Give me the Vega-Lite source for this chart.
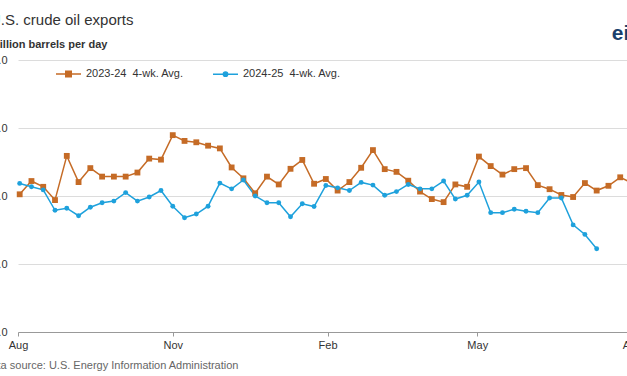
{
  "$schema": "https://vega.github.io/schema/vega-lite/v6.json",
  "width": 614,
  "height": 272,
  "autosize": {"type": "none"},
  "padding": {"left": 18, "top": 60, "right": -5, "bottom": 44},
  "background": "white",
  "title": {
    "text": "U.S. crude oil exports",
    "subtitle": "million barrels per day",
    "anchor": "start",
    "frame": "group",
    "dx": -28,
    "dy": 35,
    "offset": 8,
    "font": "Liberation Sans",
    "fontSize": 15,
    "fontWeight": "normal",
    "color": "#333333",
    "subtitleFont": "Liberation Sans",
    "subtitleFontSize": 11,
    "subtitleFontWeight": "bold",
    "subtitleColor": "#333333",
    "subtitlePadding": 11
  },
  "config": {
    "view": {"stroke": null},
    "font": "Liberation Sans"
  },
  "datasets": {
    "exports": [
      {"date": "2024-08-02", "series": "2023-24\u00a0 4-wk. Avg.", "value": 4.05},
      {"date": "2024-08-09", "series": "2023-24\u00a0 4-wk. Avg.", "value": 4.44},
      {"date": "2024-08-16", "series": "2023-24\u00a0 4-wk. Avg.", "value": 4.27},
      {"date": "2024-08-23", "series": "2023-24\u00a0 4-wk. Avg.", "value": 3.88},
      {"date": "2024-08-30", "series": "2023-24\u00a0 4-wk. Avg.", "value": 5.18},
      {"date": "2024-09-06", "series": "2023-24\u00a0 4-wk. Avg.", "value": 4.41},
      {"date": "2024-09-13", "series": "2023-24\u00a0 4-wk. Avg.", "value": 4.82},
      {"date": "2024-09-20", "series": "2023-24\u00a0 4-wk. Avg.", "value": 4.57},
      {"date": "2024-09-27", "series": "2023-24\u00a0 4-wk. Avg.", "value": 4.57},
      {"date": "2024-10-04", "series": "2023-24\u00a0 4-wk. Avg.", "value": 4.57},
      {"date": "2024-10-11", "series": "2023-24\u00a0 4-wk. Avg.", "value": 4.69},
      {"date": "2024-10-18", "series": "2023-24\u00a0 4-wk. Avg.", "value": 5.10},
      {"date": "2024-10-25", "series": "2023-24\u00a0 4-wk. Avg.", "value": 5.07},
      {"date": "2024-11-01", "series": "2023-24\u00a0 4-wk. Avg.", "value": 5.79},
      {"date": "2024-11-08", "series": "2023-24\u00a0 4-wk. Avg.", "value": 5.62},
      {"date": "2024-11-15", "series": "2023-24\u00a0 4-wk. Avg.", "value": 5.58},
      {"date": "2024-11-22", "series": "2023-24\u00a0 4-wk. Avg.", "value": 5.48},
      {"date": "2024-11-29", "series": "2023-24\u00a0 4-wk. Avg.", "value": 5.40},
      {"date": "2024-12-06", "series": "2023-24\u00a0 4-wk. Avg.", "value": 4.84},
      {"date": "2024-12-13", "series": "2023-24\u00a0 4-wk. Avg.", "value": 4.52},
      {"date": "2024-12-20", "series": "2023-24\u00a0 4-wk. Avg.", "value": 4.08},
      {"date": "2024-12-27", "series": "2023-24\u00a0 4-wk. Avg.", "value": 4.57},
      {"date": "2025-01-03", "series": "2023-24\u00a0 4-wk. Avg.", "value": 4.34},
      {"date": "2025-01-10", "series": "2023-24\u00a0 4-wk. Avg.", "value": 4.80},
      {"date": "2025-01-17", "series": "2023-24\u00a0 4-wk. Avg.", "value": 5.06},
      {"date": "2025-01-24", "series": "2023-24\u00a0 4-wk. Avg.", "value": 4.36},
      {"date": "2025-01-31", "series": "2023-24\u00a0 4-wk. Avg.", "value": 4.50},
      {"date": "2025-02-07", "series": "2023-24\u00a0 4-wk. Avg.", "value": 4.16},
      {"date": "2025-02-14", "series": "2023-24\u00a0 4-wk. Avg.", "value": 4.41},
      {"date": "2025-02-21", "series": "2023-24\u00a0 4-wk. Avg.", "value": 4.83},
      {"date": "2025-02-28", "series": "2023-24\u00a0 4-wk. Avg.", "value": 5.35},
      {"date": "2025-03-07", "series": "2023-24\u00a0 4-wk. Avg.", "value": 4.79},
      {"date": "2025-03-14", "series": "2023-24\u00a0 4-wk. Avg.", "value": 4.71},
      {"date": "2025-03-21", "series": "2023-24\u00a0 4-wk. Avg.", "value": 4.45},
      {"date": "2025-03-28", "series": "2023-24\u00a0 4-wk. Avg.", "value": 4.13},
      {"date": "2025-04-04", "series": "2023-24\u00a0 4-wk. Avg.", "value": 3.91},
      {"date": "2025-04-11", "series": "2023-24\u00a0 4-wk. Avg.", "value": 3.82},
      {"date": "2025-04-18", "series": "2023-24\u00a0 4-wk. Avg.", "value": 4.34},
      {"date": "2025-04-25", "series": "2023-24\u00a0 4-wk. Avg.", "value": 4.27},
      {"date": "2025-05-02", "series": "2023-24\u00a0 4-wk. Avg.", "value": 5.16},
      {"date": "2025-05-09", "series": "2023-24\u00a0 4-wk. Avg.", "value": 4.88},
      {"date": "2025-05-16", "series": "2023-24\u00a0 4-wk. Avg.", "value": 4.63},
      {"date": "2025-05-23", "series": "2023-24\u00a0 4-wk. Avg.", "value": 4.79},
      {"date": "2025-05-30", "series": "2023-24\u00a0 4-wk. Avg.", "value": 4.82},
      {"date": "2025-06-06", "series": "2023-24\u00a0 4-wk. Avg.", "value": 4.32},
      {"date": "2025-06-13", "series": "2023-24\u00a0 4-wk. Avg.", "value": 4.20},
      {"date": "2025-06-20", "series": "2023-24\u00a0 4-wk. Avg.", "value": 4.03},
      {"date": "2025-06-27", "series": "2023-24\u00a0 4-wk. Avg.", "value": 3.97},
      {"date": "2025-07-04", "series": "2023-24\u00a0 4-wk. Avg.", "value": 4.38},
      {"date": "2025-07-11", "series": "2023-24\u00a0 4-wk. Avg.", "value": 4.16},
      {"date": "2025-07-18", "series": "2023-24\u00a0 4-wk. Avg.", "value": 4.30},
      {"date": "2025-07-25", "series": "2023-24\u00a0 4-wk. Avg.", "value": 4.55},
      {"date": "2025-08-01", "series": "2023-24\u00a0 4-wk. Avg.", "value": 4.38},
      {"date": "2024-08-02", "series": "2024-25\u00a0 4-wk. Avg.", "value": 4.37},
      {"date": "2024-08-09", "series": "2024-25\u00a0 4-wk. Avg.", "value": 4.27},
      {"date": "2024-08-16", "series": "2024-25\u00a0 4-wk. Avg.", "value": 4.18},
      {"date": "2024-08-23", "series": "2024-25\u00a0 4-wk. Avg.", "value": 3.58},
      {"date": "2024-08-30", "series": "2024-25\u00a0 4-wk. Avg.", "value": 3.64},
      {"date": "2024-09-06", "series": "2024-25\u00a0 4-wk. Avg.", "value": 3.42},
      {"date": "2024-09-13", "series": "2024-25\u00a0 4-wk. Avg.", "value": 3.67},
      {"date": "2024-09-20", "series": "2024-25\u00a0 4-wk. Avg.", "value": 3.80},
      {"date": "2024-09-27", "series": "2024-25\u00a0 4-wk. Avg.", "value": 3.85},
      {"date": "2024-10-04", "series": "2024-25\u00a0 4-wk. Avg.", "value": 4.10},
      {"date": "2024-10-11", "series": "2024-25\u00a0 4-wk. Avg.", "value": 3.85},
      {"date": "2024-10-18", "series": "2024-25\u00a0 4-wk. Avg.", "value": 3.97},
      {"date": "2024-10-25", "series": "2024-25\u00a0 4-wk. Avg.", "value": 4.16},
      {"date": "2024-11-01", "series": "2024-25\u00a0 4-wk. Avg.", "value": 3.70},
      {"date": "2024-11-08", "series": "2024-25\u00a0 4-wk. Avg.", "value": 3.36},
      {"date": "2024-11-15", "series": "2024-25\u00a0 4-wk. Avg.", "value": 3.47},
      {"date": "2024-11-22", "series": "2024-25\u00a0 4-wk. Avg.", "value": 3.70},
      {"date": "2024-11-29", "series": "2024-25\u00a0 4-wk. Avg.", "value": 4.38},
      {"date": "2024-12-06", "series": "2024-25\u00a0 4-wk. Avg.", "value": 4.21},
      {"date": "2024-12-13", "series": "2024-25\u00a0 4-wk. Avg.", "value": 4.47},
      {"date": "2024-12-20", "series": "2024-25\u00a0 4-wk. Avg.", "value": 4.00},
      {"date": "2024-12-27", "series": "2024-25\u00a0 4-wk. Avg.", "value": 3.80},
      {"date": "2025-01-03", "series": "2024-25\u00a0 4-wk. Avg.", "value": 3.80},
      {"date": "2025-01-10", "series": "2024-25\u00a0 4-wk. Avg.", "value": 3.39},
      {"date": "2025-01-17", "series": "2024-25\u00a0 4-wk. Avg.", "value": 3.77},
      {"date": "2025-01-24", "series": "2024-25\u00a0 4-wk. Avg.", "value": 3.69},
      {"date": "2025-01-31", "series": "2024-25\u00a0 4-wk. Avg.", "value": 4.31},
      {"date": "2025-02-07", "series": "2024-25\u00a0 4-wk. Avg.", "value": 4.24},
      {"date": "2025-02-14", "series": "2024-25\u00a0 4-wk. Avg.", "value": 4.16},
      {"date": "2025-02-21", "series": "2024-25\u00a0 4-wk. Avg.", "value": 4.40},
      {"date": "2025-02-28", "series": "2024-25\u00a0 4-wk. Avg.", "value": 4.32},
      {"date": "2025-03-07", "series": "2024-25\u00a0 4-wk. Avg.", "value": 4.02},
      {"date": "2025-03-14", "series": "2024-25\u00a0 4-wk. Avg.", "value": 4.13},
      {"date": "2025-03-21", "series": "2024-25\u00a0 4-wk. Avg.", "value": 4.34},
      {"date": "2025-03-28", "series": "2024-25\u00a0 4-wk. Avg.", "value": 4.21},
      {"date": "2025-04-04", "series": "2024-25\u00a0 4-wk. Avg.", "value": 4.21},
      {"date": "2025-04-11", "series": "2024-25\u00a0 4-wk. Avg.", "value": 4.44},
      {"date": "2025-04-18", "series": "2024-25\u00a0 4-wk. Avg.", "value": 3.91},
      {"date": "2025-04-25", "series": "2024-25\u00a0 4-wk. Avg.", "value": 4.02},
      {"date": "2025-05-02", "series": "2024-25\u00a0 4-wk. Avg.", "value": 4.41},
      {"date": "2025-05-09", "series": "2024-25\u00a0 4-wk. Avg.", "value": 3.51},
      {"date": "2025-05-16", "series": "2024-25\u00a0 4-wk. Avg.", "value": 3.51},
      {"date": "2025-05-23", "series": "2024-25\u00a0 4-wk. Avg.", "value": 3.61},
      {"date": "2025-05-30", "series": "2024-25\u00a0 4-wk. Avg.", "value": 3.55},
      {"date": "2025-06-06", "series": "2024-25\u00a0 4-wk. Avg.", "value": 3.51},
      {"date": "2025-06-13", "series": "2024-25\u00a0 4-wk. Avg.", "value": 3.94},
      {"date": "2025-06-20", "series": "2024-25\u00a0 4-wk. Avg.", "value": 3.94},
      {"date": "2025-06-27", "series": "2024-25\u00a0 4-wk. Avg.", "value": 3.15},
      {"date": "2025-07-04", "series": "2024-25\u00a0 4-wk. Avg.", "value": 2.87},
      {"date": "2025-07-11", "series": "2024-25\u00a0 4-wk. Avg.", "value": 2.45}
    ],
    "logo": [{"label": "eia"}]
  },
  "layer": [
    {
      "data": {"name": "exports"},
      "mark": {"type": "line", "strokeWidth": 1.5},
      "encoding": {
        "x": {
          "field": "date",
          "type": "temporal",
          "scale": {"type": "utc", "domain": [{"year": 2024, "month": 8, "date": 1, "utc": true}, {"year": 2025, "month": 8, "date": 1, "utc": true}]},
          "axis": {
            "values": [
              {"year": 2024, "month": 8, "date": 1, "utc": true},
              {"year": 2024, "month": 11, "date": 1, "utc": true},
              {"year": 2025, "month": 2, "date": 1, "utc": true},
              {"year": 2025, "month": 5, "date": 1, "utc": true},
              {"year": 2025, "month": 8, "date": 1, "utc": true}
            ],
            "labelExpr": "utcFormat(datum.value, '%b')",
            "labelFlush": false,
            "labelOverlap": false,
            "labelFont": "Liberation Sans",
            "labelFontSize": 11,
            "labelColor": "#333333",
            "labelPadding": 3,
            "tickSize": 4,
            "tickColor": "#999999",
            "domainColor": "#999999",
            "grid": false,
            "title": "Data source: U.S. Energy Information Administration",
            "titleAnchor": "start",
            "titleAlign": "left",
            "titleX": -35,
            "titleY": 36,
            "titleBaseline": "alphabetic",
            "titleFont": "Liberation Sans",
            "titleFontSize": 11,
            "titleFontWeight": "normal",
            "titleColor": "#666666"
          }
        },
        "y": {
          "field": "value",
          "type": "quantitative",
          "scale": {"domain": [0, 8], "nice": false, "zero": true},
          "axis": {
            "values": [0, 2, 4, 6, 8],
            "format": ".1f",
            "domain": false,
            "ticks": false,
            "labelPadding": 11,
            "labelFont": "Liberation Sans",
            "labelFontSize": 11,
            "labelColor": "#333333",
            "gridColor": "#dcdcdc",
            "gridWidth": 1,
            "title": null
          }
        },
        "color": {
          "field": "series",
          "type": "nominal",
          "scale": {"domain": ["2023-24\u00a0 4-wk. Avg.", "2024-25\u00a0 4-wk. Avg."], "range": ["#c56b26", "#1ea1dc"]},
          "legend": {
            "title": null,
            "orient": "none",
            "direction": "horizontal",
            "legendX": 37,
            "legendY": 0,
            "padding": 0,
            "symbolSize": 625,
            "symbolStrokeWidth": 1.5,
            "labelOffset": 4,
            "columnPadding": 26,
            "labelFont": "Liberation Sans",
            "labelFontSize": 11,
            "labelColor": "#333333",
            "encode": {
              "symbols": {
                "update": {
                  "shape": {"signal": "indexof(datum.value, '2023') === 0 ? 'M-1,0L1,0M-0.22,-0.22L0.22,-0.22L0.22,0.22L-0.22,0.22Z' : 'M-1,0L1,0M0.17,0A0.17,0.17,0,1,1,-0.17,0A0.17,0.17,0,1,1,0.17,0Z'"},
                  "size": {"value": 625},
                  "fill": {"scale": "color", "field": "value"},
                  "stroke": {"scale": "color", "field": "value"},
                  "strokeWidth": {"value": 1.5},
                  "opacity": {"value": 1}
                }
              }
            }
          }
        }
      }
    },
    {
      "data": {"name": "exports"},
      "transform": [{"filter": "indexof(datum.series, '2023') === 0"}],
      "mark": {"type": "point", "filled": true, "opacity": 1, "shape": "square", "size": 34, "color": "#c56b26"},
      "encoding": {
        "x": {"field": "date", "type": "temporal"},
        "y": {"field": "value", "type": "quantitative"}
      }
    },
    {
      "data": {"name": "exports"},
      "transform": [{"filter": "indexof(datum.series, '2024') === 0"}],
      "mark": {"type": "point", "filled": true, "opacity": 1, "shape": "circle", "size": 24, "color": "#1ea1dc"},
      "encoding": {
        "x": {"field": "date", "type": "temporal"},
        "y": {"field": "value", "type": "quantitative"}
      }
    },
    {
      "data": {"name": "logo"},
      "mark": {"type": "text", "align": "left", "baseline": "alphabetic", "font": "Liberation Sans", "fontSize": 21, "fontWeight": "bold", "color": "#1b3f6b"},
      "encoding": {
        "x": {"datum": {"year": 2025, "month": 7, "date": 20, "utc": true}, "type": "temporal"},
        "y": {"datum": 8.59, "type": "quantitative"},
        "text": {"field": "label"}
      }
    }
  ]
}
